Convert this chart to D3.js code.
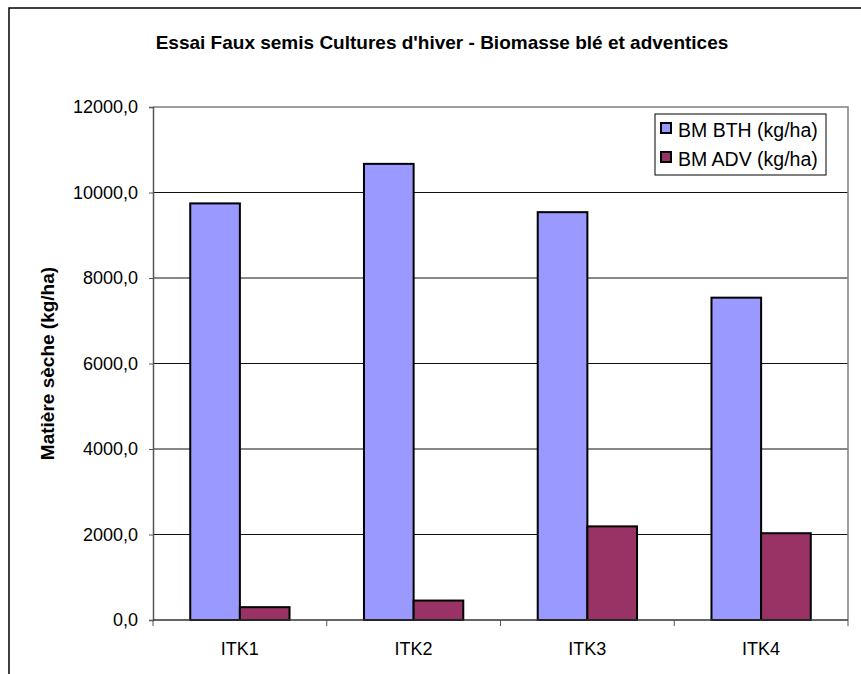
<!DOCTYPE html>
<html>
<head>
<meta charset="utf-8">
<script src="https://cdn.jsdelivr.net/npm/d3@7"></script>
<style>
  body { margin: 0; background: #fff; }
  svg { font-family: Arial, 'Liberation Sans', sans-serif; }
</style>
</head>
<body>
<svg width="861" height="674"></svg>
<script>
var categories = ['ITK1', 'ITK2', 'ITK3', 'ITK4'];
var seriesNames = ['BM BTH (kg/ha)', 'BM ADV (kg/ha)'];
var bthValues = [9745, 10670, 9540, 7540];
var advValues = [300, 455, 2190, 2030];
var yTicks = [0, 2000, 4000, 6000, 8000, 10000, 12000];
var colors = ['#9999FF', '#993366'];

var plotLeft = 153, plotRight = 848, plotTop = 107, plotBottom = 620;

var svg = d3.select('svg');

// outer frame
svg.append('rect')
  .attr('x', 9).attr('y', 8)
  .attr('width', 900).attr('height', 700)
  .attr('fill', 'none')
  .attr('stroke', '#000')
  .attr('stroke-width', 1.5);

var xScale = d3.scaleBand()
  .domain(categories)
  .range([plotLeft, plotRight])
  .paddingInner(0.4285)
  .paddingOuter(0.2143);

var xSub = d3.scaleBand()
  .domain([0, 1])
  .range([0, xScale.bandwidth()]);

var yScale = d3.scaleLinear()
  .domain([0, 12000])
  .range([plotBottom, plotTop]);

// gridlines
svg.append('g')
  .selectAll('line')
  .data(yTicks.slice(1, -1))
  .enter()
  .append('line')
  .attr('x1', plotLeft).attr('x2', plotRight)
  .attr('y1', d => yScale(d)).attr('y2', d => yScale(d))
  .attr('stroke', '#111')
  .attr('stroke-width', 1);

// plot border top/right
svg.append('path')
  .attr('d', 'M' + plotLeft + ',' + plotTop + 'H' + plotRight + 'V' + plotBottom)
  .attr('fill', 'none')
  .attr('stroke', '#808080')
  .attr('stroke-width', 1.5);

// bars
var rows = categories.map((c, i) => ({ cat: c, vals: [bthValues[i], advValues[i]] }));

var groups = svg.append('g')
  .selectAll('g')
  .data(rows)
  .enter()
  .append('g')
  .attr('transform', d => 'translate(' + xScale(d.cat) + ',0)');

groups.selectAll('rect')
  .data(d => d.vals.map((v, k) => ({ k: k, v: v })))
  .enter()
  .append('rect')
  .attr('x', d => xSub(d.k))
  .attr('y', d => yScale(d.v))
  .attr('width', xSub.bandwidth())
  .attr('height', d => plotBottom - yScale(d.v))
  .attr('fill', d => colors[d.k])
  .attr('stroke', '#000')
  .attr('stroke-width', 2);

// axes
var fmt = d => d3.format('.1f')(d).replace('.', ',');

var yAxis = d3.axisLeft(yScale)
  .tickValues(yTicks)
  .tickFormat(fmt)
  .tickSize(4)
  .tickPadding(11);

var yG = svg.append('g')
  .attr('transform', 'translate(' + plotLeft + ',0)')
  .call(yAxis);
yG.select('.domain').attr('stroke', '#555').attr('stroke-width', 1.5);
yG.selectAll('line').attr('stroke', '#555');
yG.selectAll('text').attr('font-size', 18).attr('fill', '#000')
  .attr('font-family', 'Arial, Liberation Sans, sans-serif');

var xAxis = d3.scaleLinear().domain([0, 4]).range([plotLeft, plotRight]);
var xG = svg.append('g')
  .attr('transform', 'translate(0,' + plotBottom + ')');
xG.append('line')
  .attr('x1', plotLeft).attr('x2', plotRight)
  .attr('stroke', '#333').attr('stroke-width', 1.5);
xG.selectAll('.tk')
  .data([0, 1, 2, 3, 4])
  .enter()
  .append('line')
  .attr('x1', d => xAxis(d)).attr('x2', d => xAxis(d))
  .attr('y1', 0).attr('y2', 6)
  .attr('stroke', '#555');
xG.selectAll('text')
  .data(categories)
  .enter()
  .append('text')
  .attr('x', d => xScale(d) + xScale.bandwidth() / 2)
  .attr('y', 35)
  .attr('text-anchor', 'middle')
  .attr('font-size', 18)
  .text(d => d);

// title
svg.append('text')
  .attr('x', 442).attr('y', 49)
  .attr('text-anchor', 'middle')
  .attr('font-size', 19)
  .attr('font-weight', 'bold')
  .text("Essai Faux semis Cultures d'hiver - Biomasse blé et adventices");

// y label
svg.append('text')
  .attr('transform', 'translate(54,' + ((plotTop + plotBottom) / 2) + ') rotate(-90)')
  .attr('text-anchor', 'middle')
  .attr('font-size', 19)
  .attr('font-weight', 'bold')
  .text('Matière sèche (kg/ha)');

// legend
var lg = svg.append('g').attr('transform', 'translate(655,114)');
lg.append('rect')
  .attr('width', 171).attr('height', 61)
  .attr('fill', '#fff').attr('stroke', '#000').attr('stroke-width', 1);
seriesNames.forEach(function (name, i) {
  lg.append('rect')
    .attr('x', 6).attr('y', 9 + i * 29)
    .attr('width', 10).attr('height', 10)
    .attr('fill', colors[i]).attr('stroke', '#000').attr('stroke-width', 2);
  lg.append('text')
    .attr('x', 23).attr('y', 23 + i * 29)
    .attr('font-size', 19.5)
    .text(name);
});
</script>
</body>
</html>
